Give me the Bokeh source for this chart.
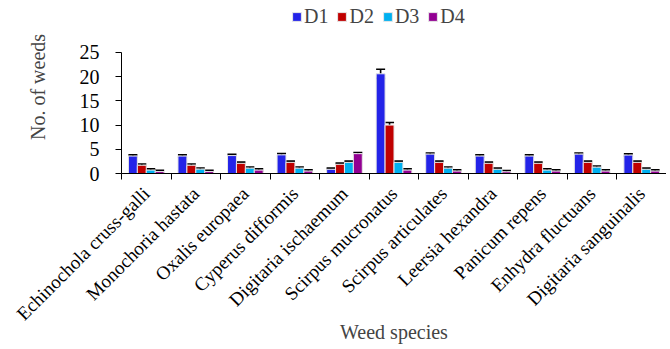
import math
from bokeh.plotting import figure
from bokeh.models import ColumnDataSource, Whisker, TeeHead, FixedTicker, Legend, LegendItem
from bokeh.embed import file_html
from bokeh.resources import INLINE

species = ["Echinochola cruss-galli", "Monochoria hastata", "Oxalis europaea",
           "Cyperus difformis", "Digitaria ischaemum", "Scirpus mucronatus",
           "Scirpus articulates", "Leersia hexandra", "Panicum repens",
           "Enhydra fluctuans", "Digitaria sanguinalis"]
series = ["D1", "D2", "D3", "D4"]
D1 = [3.6, 3.6, 3.7, 3.85, 0.87, 20.6, 4.0, 3.6, 3.6, 4.0, 3.8]
D2 = [1.7, 1.7, 2.1, 2.3, 1.9, 10.0, 2.3, 2.1, 2.1, 2.3, 2.3]
D3 = [0.7, 0.9, 1.1, 1.1, 2.3, 2.3, 1.1, 0.87, 0.7, 1.3, 0.87]
D4 = [0.4, 0.4, 0.7, 0.5, 4.1, 0.7, 0.5, 0.35, 0.5, 0.5, 0.5]
E1 = [0.25, 0.25, 0.25, 0.25, 0.25, 0.95, 0.25, 0.25, 0.25, 0.25, 0.25]
E2 = [0.25, 0.25, 0.25, 0.25, 0.25, 0.55, 0.25, 0.25, 0.25, 0.25, 0.25]
E3 = [0.25] * 11
E4 = [0.25] * 11
y_ticks = [0, 5, 10, 15, 20, 25]

values = [D1, D2, D3, D4]
errors = [E1, E2, E3, E4]
colors = ["#2323E8", "#C00000", "#00B0F0", "#920092"]
offsets = [-0.27, -0.09, 0.09, 0.27]
bar_w = 0.18
FONT = "'Liberation Serif', 'Times New Roman', serif"

p = figure(width=666, height=345, output_backend="svg", toolbar_location=None,
           x_range=(0, len(species)), y_range=(0, 35.74),
           min_border_left=121, min_border_right=0, min_border_top=0,
           min_border_bottom=172)
p.outline_line_color = None
p.xgrid.visible = False
p.ygrid.visible = False
p.background_fill_color = "white"
p.border_fill_color = "white"

items = []
for s, vals, errs, c, off in zip(series, values, errors, colors, offsets):
    xs = [i + 0.5 + off for i in range(len(species))]
    src = ColumnDataSource(dict(x=xs, top=vals,
                                lower=[v - e for v, e in zip(vals, errs)],
                                upper=[v + e for v, e in zip(vals, errs)]))
    r = p.vbar(x="x", top="top", width=bar_w, source=src, fill_color=c,
               line_color="#e6e6e6", line_width=1)
    items.append(LegendItem(label=s, renderers=[r]))
    w = Whisker(base="x", lower="lower", upper="upper", source=src,
                line_color="black", line_width=1.6,
                upper_head=TeeHead(size=9, line_color="black", line_width=1.6),
                lower_head=TeeHead(size=9, line_color="black", line_width=1.6))
    p.add_layout(w)

# y axis
p.yaxis.ticker = FixedTicker(ticks=y_ticks)
p.yaxis.bounds = (0, 25)
p.yaxis.minor_tick_line_color = None
p.yaxis.major_tick_in = 0
p.yaxis.major_tick_out = 6
p.yaxis.major_label_standoff = 16
p.yaxis.major_label_text_font = FONT
p.yaxis.major_label_text_font_size = "20px"
p.yaxis.major_label_text_color = "black"
p.yaxis.axis_label = "No. of weeds"
p.yaxis.axis_label_text_font = FONT
p.yaxis.axis_label_text_font_size = "20px"
p.yaxis.axis_label_text_font_style = "normal"
p.yaxis.axis_label_standoff = 28
p.yaxis.axis_line_color = "black"

# x axis: labels at category centres, tick marks at boundaries (minor ticks)
centers = [i + 0.5 for i in range(len(species))]
p.xaxis.ticker = FixedTicker(ticks=centers, minor_ticks=list(range(len(species) + 1)))
p.xaxis.major_label_overrides = {c: s for c, s in zip(centers, species)}
p.xaxis.major_tick_in = 0
p.xaxis.major_tick_out = 0
p.xaxis.minor_tick_in = 0
p.xaxis.minor_tick_out = 6
p.xaxis.minor_tick_line_color = "black"
p.xaxis.minor_tick_line_width = 1
p.xaxis.major_label_orientation = math.pi / 4
p.xaxis.major_label_standoff = 11
p.xaxis.major_label_text_font = FONT
p.xaxis.major_label_text_font_size = "19px"
p.xaxis.major_label_text_color = "black"
p.xaxis.axis_label = "Weed species"
p.xaxis.axis_label_text_font = FONT
p.xaxis.axis_label_text_font_size = "20px"
p.xaxis.axis_label_text_font_style = "normal"
p.xaxis.axis_label_standoff = -14
p.xaxis.axis_line_color = "black"

legend = Legend(items=items, orientation="horizontal", location=(170, 145),
                label_text_font=FONT, label_text_font_size="20px",
                glyph_width=11, glyph_height=11, label_standoff=2,
                spacing=8, padding=0, margin=0, border_line_color=None,
                background_fill_alpha=0)
p.add_layout(legend, "center")

open("out.html", "w").write(file_html(p, INLINE))
